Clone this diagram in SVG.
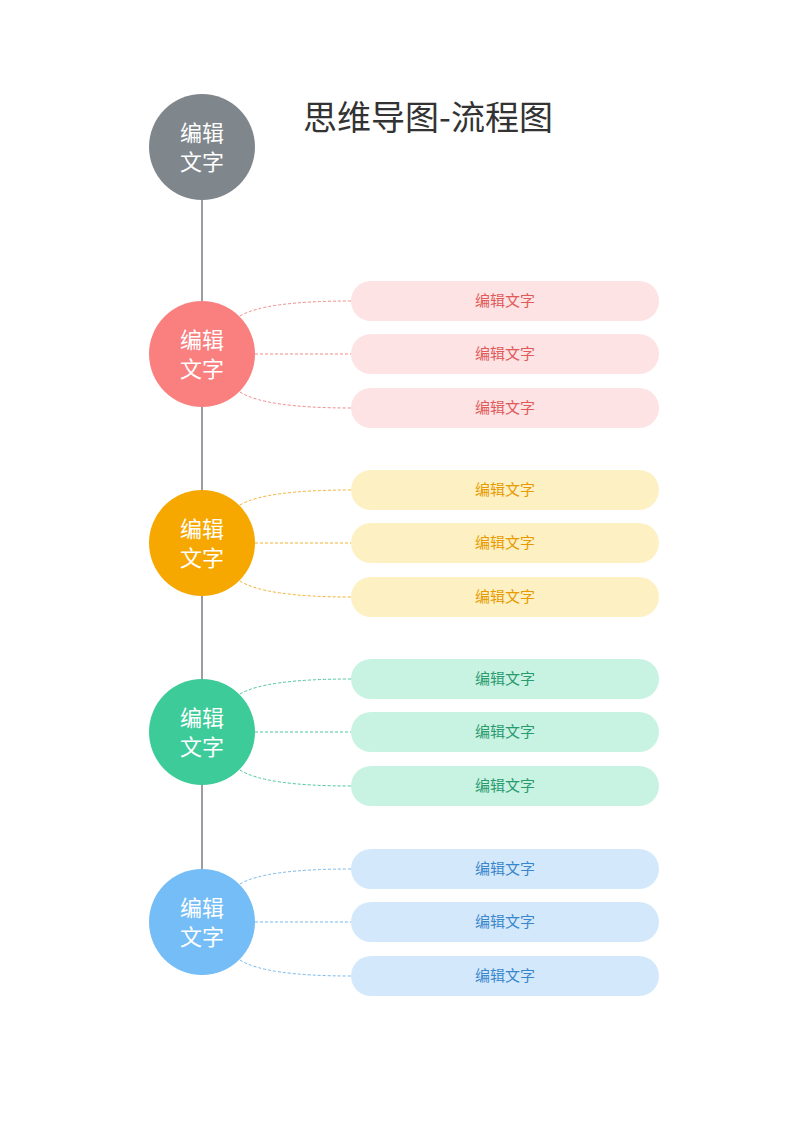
<svg xmlns="http://www.w3.org/2000/svg" width="800" height="1130" viewBox="0 0 800 1130">
<style>
text{font-family:"Noto Sans CJK SC",sans-serif;text-anchor:middle}
.ct{fill:#fff;font-size:22px}
.bt{font-size:15px}
.c{fill:none;stroke-width:1;stroke-dasharray:3 2}
</style>
<rect width="800" height="1130" fill="#fff"/>
<text x="428" y="130" style="font-size:34px;fill:#333">思维导图-流程图</text>
<g id="connectors">
<line x1="202" y1="190" x2="202" y2="880" stroke="#9a9ea3" stroke-width="2"/>
<g stroke="#f08a8a" class="c"><path class="c" d="M240,316 Q265,301 351,301"/><path class="c" d="M255,354 H351"/><path class="c" d="M240,392 Q265,408 351,408"/></g>
<g stroke="#f2b233"><path class="c" d="M240,505 Q265,490 351,490"/><path class="c" d="M255,543 H351"/><path class="c" d="M240,581 Q265,597 351,597"/></g>
<g stroke="#4cc79a"><path class="c" d="M240,694 Q265,679 351,679"/><path class="c" d="M255,732 H351"/><path class="c" d="M240,770 Q265,786 351,786"/></g>
<g stroke="#7ab8ea"><path class="c" d="M240,884 Q265,869 351,869"/><path class="c" d="M255,922 H351"/><path class="c" d="M240,960 Q265,976 351,976"/></g>
</g>
<g id="n0"><circle cx="202" cy="147" r="53" fill="#7f868c"/><text class="ct" x="202" y="141">编辑</text><text class="ct" x="202" y="170">文字</text></g>
<g id="n1"><circle cx="202" cy="354" r="53" fill="#fa8080"/><text class="ct" x="202" y="348">编辑</text><text class="ct" x="202" y="377">文字</text></g>
<g id="n2"><circle cx="202" cy="543" r="53" fill="#f7a800"/><text class="ct" x="202" y="537">编辑</text><text class="ct" x="202" y="566">文字</text></g>
<g id="n3"><circle cx="202" cy="732" r="53" fill="#3ecb9a"/><text class="ct" x="202" y="726">编辑</text><text class="ct" x="202" y="755">文字</text></g>
<g id="n4"><circle cx="202" cy="922" r="53" fill="#74bdf6"/><text class="ct" x="202" y="916">编辑</text><text class="ct" x="202" y="945">文字</text></g>
<g id="p1"><rect x="351" y="281" width="308" height="40" rx="20" fill="#fde3e3"/><text class="bt" x="505" y="306" fill="#e05a5a">编辑文字</text></g>
<g id="p2"><rect x="351" y="334" width="308" height="40" rx="20" fill="#fde3e3"/><text class="bt" x="505" y="359" fill="#e05a5a">编辑文字</text></g>
<g id="p3"><rect x="351" y="388" width="308" height="40" rx="20" fill="#fde3e3"/><text class="bt" x="505" y="413" fill="#e05a5a">编辑文字</text></g>
<g id="o1"><rect x="351" y="470" width="308" height="40" rx="20" fill="#fdf1c4"/><text class="bt" x="505" y="495" fill="#e89a00">编辑文字</text></g>
<g id="o2"><rect x="351" y="523" width="308" height="40" rx="20" fill="#fdf1c4"/><text class="bt" x="505" y="548" fill="#e89a00">编辑文字</text></g>
<g id="o3"><rect x="351" y="577" width="308" height="40" rx="20" fill="#fdf1c4"/><text class="bt" x="505" y="602" fill="#e89a00">编辑文字</text></g>
<g id="g1"><rect x="351" y="659" width="308" height="40" rx="20" fill="#c8f2e2"/><text class="bt" x="505" y="684" fill="#2a9a6f">编辑文字</text></g>
<g id="g2"><rect x="351" y="712" width="308" height="40" rx="20" fill="#c8f2e2"/><text class="bt" x="505" y="737" fill="#2a9a6f">编辑文字</text></g>
<g id="g3"><rect x="351" y="766" width="308" height="40" rx="20" fill="#c8f2e2"/><text class="bt" x="505" y="791" fill="#2a9a6f">编辑文字</text></g>
<g id="b1"><rect x="351" y="849" width="308" height="40" rx="20" fill="#d3e9fb"/><text class="bt" x="505" y="874" fill="#3a86cc">编辑文字</text></g>
<g id="b2"><rect x="351" y="902" width="308" height="40" rx="20" fill="#d3e9fb"/><text class="bt" x="505" y="927" fill="#3a86cc">编辑文字</text></g>
<g id="b3"><rect x="351" y="956" width="308" height="40" rx="20" fill="#d3e9fb"/><text class="bt" x="505" y="981" fill="#3a86cc">编辑文字</text></g>
</svg>
